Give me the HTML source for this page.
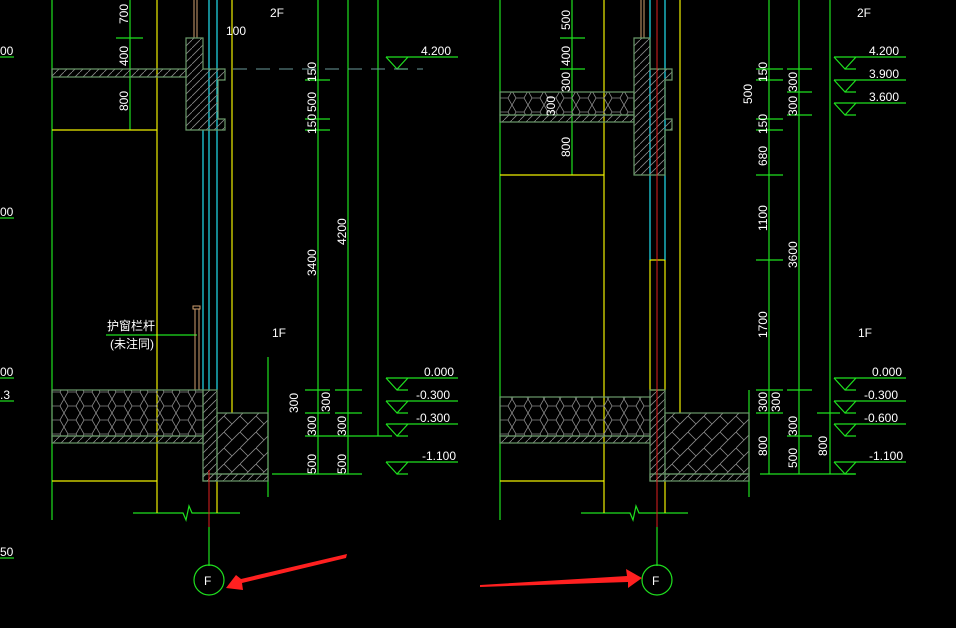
<!DOCTYPE html>
<html><head><meta charset="utf-8"><style>
html,body{margin:0;padding:0;background:#000;width:956px;height:628px;overflow:hidden}
svg{display:block}
text{font-family:"Liberation Sans","Noto Sans CJK SC",sans-serif;fill:#fff;font-size:12px}
</style></head><body>
<svg width="956" height="628" viewBox="0 0 956 628" xmlns="http://www.w3.org/2000/svg">
<defs>
<pattern id="hex" width="16" height="14" patternUnits="userSpaceOnUse">
<path d="M4 0 L12 0 L16 7 L12 14 L4 14 L0 7 Z" fill="none" stroke="#8a8a8a" stroke-width="0.8"/>
</pattern>
<pattern id="hat" width="8" height="8" patternUnits="userSpaceOnUse">
<path d="M0 8 L8 0" stroke="#8a8a8a" stroke-width="0.8"/>
</pattern>
<pattern id="hat2" width="16" height="16" patternUnits="userSpaceOnUse">
<path d="M0 16 L16 0 M0 0 L8 8" stroke="#8a8a8a" stroke-width="0.8"/>
</pattern>
</defs>
<rect width="956" height="628" fill="#000"/>

<g id="panel">
<!-- green long lines -->
<g stroke="#1fe01f" stroke-width="1.2" fill="none">
<line x1="52" y1="0" x2="52" y2="520"/>
<line x1="318" y1="0" x2="318" y2="474"/>
<line x1="348" y1="0" x2="348" y2="474"/>
<line x1="378" y1="0" x2="378" y2="436"/>
<line x1="130" y1="0" x2="130" y2="130"/>
<line x1="116" y1="38" x2="143" y2="38"/>
<line x1="305" y1="80" x2="330" y2="80"/>
<line x1="305" y1="119" x2="330" y2="119"/>
<line x1="305" y1="130" x2="330" y2="130"/>
<line x1="305" y1="390" x2="330" y2="390"/>
<line x1="335" y1="390" x2="362" y2="390"/>
<line x1="305" y1="413" x2="330" y2="413"/>
<line x1="335" y1="413" x2="362" y2="413"/>
<line x1="305" y1="436" x2="392" y2="436"/>
<line x1="272" y1="474" x2="362" y2="474"/>
<line x1="268" y1="357" x2="268" y2="497"/>
<path d="M133 513 H183 L186 520 L189 506 L192 513 H240"/>
<line x1="209" y1="527" x2="209" y2="566"/>
<circle cx="209" cy="580" r="15"/>
<line x1="106" y1="335" x2="197" y2="335"/>
<line x1="0" y1="57" x2="14" y2="57"/>
<line x1="0" y1="218" x2="14" y2="218"/>
<line x1="0" y1="378" x2="14" y2="378"/>
<line x1="0" y1="401" x2="14" y2="401"/>
<line x1="0" y1="558" x2="14" y2="558"/>
</g>
<!-- elevation marks -->
<g stroke="#1fe01f" stroke-width="1.2" fill="none">
<path d="M386 57 H458 M386 57 L397 69 L408 57 M397 69 H408"/>
<path d="M386 378 H458 M386 378 L397 390 L408 378 M397 390 H408"/>
<path d="M386 401 H458 M386 401 L397 413 L408 401 M397 413 H408"/>
<path d="M386 424 H458 M386 424 L397 436 L408 424 M397 436 H408"/>
<path d="M386 462 H458 M386 462 L397 474 L408 462 M397 474 H408"/>
</g>
<!-- yellow -->
<g stroke="#f0f000" stroke-width="1.2">
<line x1="157" y1="0" x2="157" y2="513"/>
<line x1="232" y1="0" x2="232" y2="413"/>
<line x1="52" y1="130" x2="157" y2="130"/>
<line x1="52" y1="481" x2="157" y2="481"/>
<line x1="217" y1="481" x2="217" y2="513"/>
</g>
<!-- cyan -->
<g stroke="#22e0f0" stroke-width="1.2">
<line x1="203" y1="130" x2="203" y2="390"/>
<line x1="209" y1="0" x2="209" y2="390"/>
<line x1="217" y1="0" x2="217" y2="390"/>
</g>
<g stroke="#d0a070" stroke-width="1"><line x1="194" y1="0" x2="194" y2="38"/><line x1="197" y1="0" x2="197" y2="38"/>
<rect x="193" y="306" width="7" height="3" fill="none"/><line x1="195" y1="309" x2="195" y2="390"/><line x1="199" y1="309" x2="199" y2="390"/></g>
<!-- slab + beam -->
<g stroke="#6a9a6a" stroke-width="1.2">
<rect x="52" y="69" width="134" height="8" fill="url(#hat)"/>
<path d="M186 38 H203 V69 H225 V80 H218 V119 H225 V130 H186 Z" fill="url(#hat)"/>
<rect x="52" y="390" width="151" height="46" fill="url(#hex)"/>
<rect x="52" y="436" width="151" height="7" fill="url(#hat)"/>
<rect x="203" y="390" width="14" height="91" fill="url(#hat)"/>
<rect x="217" y="413" width="51" height="61" fill="url(#hat2)"/>
<rect x="203" y="474" width="65" height="7" fill="url(#hat)"/>
</g>
<line x1="209" y1="470" x2="209" y2="527" stroke="#e02020"/>
<line x1="233" y1="69" x2="423" y2="69" stroke="#6a9a9a" stroke-dasharray="14,9"/>
<!-- texts -->
<text x="270" y="17" font-size="13">2F</text>
<text x="272" y="337" font-size="13">1F</text>
<text x="226" y="35" font-size="12">100</text>
<text x="421" y="55">4.200</text>
<text x="424" y="376">0.000</text>
<text x="416" y="399">-0.300</text>
<text x="416" y="422">-0.300</text>
<text x="422" y="460">-1.100</text>
<text x="0" y="55">00</text>
<text x="0" y="216">00</text>
<text x="0" y="376">00</text>
<text x="0" y="399">.3</text>
<text x="0" y="556">50</text>
<text x="107" y="330" font-size="10">护窗栏杆</text>
<text x="110" y="348" font-size="10">(未注同)</text>
<text x="204" y="585" font-size="12">F</text>
<g font-size="11">
<text transform="translate(128,24) rotate(-90)">700</text>
<text transform="translate(128,66) rotate(-90)">400</text>
<text transform="translate(128,111) rotate(-90)">800</text>
<text transform="translate(316,82) rotate(-90)">150</text>
<text transform="translate(316,112) rotate(-90)">500</text>
<text transform="translate(316,134) rotate(-90)">150</text>
<text transform="translate(316,276) rotate(-90)">3400</text>
<text transform="translate(346,245) rotate(-90)">4200</text>
<text transform="translate(298,413) rotate(-90)">300</text>
<text transform="translate(316,436) rotate(-90)">300</text>
<text transform="translate(330,412) rotate(-90)">300</text>
<text transform="translate(346,436) rotate(-90)">300</text>
<text transform="translate(316,474) rotate(-90)">500</text>
<text transform="translate(346,474) rotate(-90)">500</text>
</g>
</g>

<!-- right panel -->
<g>
<g stroke="#1fe01f" stroke-width="1.2" fill="none">
<line x1="500" y1="0" x2="500" y2="520"/>
<line x1="769" y1="0" x2="769" y2="474"/>
<line x1="799" y1="0" x2="799" y2="474"/>
<line x1="830" y1="0" x2="830" y2="474"/>
<line x1="572" y1="0" x2="572" y2="175"/>
<line x1="560" y1="38" x2="585" y2="38"/>
<line x1="560" y1="69" x2="585" y2="69"/>
<line x1="756" y1="69" x2="783" y2="69"/><line x1="787" y1="69" x2="812" y2="69"/>
<line x1="787" y1="92" x2="812" y2="92"/><line x1="787" y1="115" x2="812" y2="115"/>
<line x1="756" y1="80" x2="783" y2="80"/>
<line x1="756" y1="119" x2="783" y2="119"/>
<line x1="756" y1="130" x2="783" y2="130"/>
<line x1="756" y1="175" x2="783" y2="175"/>
<line x1="756" y1="260" x2="783" y2="260"/>
<line x1="756" y1="390" x2="783" y2="390"/><line x1="787" y1="390" x2="812" y2="390"/>
<line x1="756" y1="413" x2="783" y2="413"/><line x1="817" y1="413" x2="840" y2="413"/>
<line x1="787" y1="436" x2="812" y2="436"/>
<line x1="760" y1="474" x2="855" y2="474"/>
<line x1="749" y1="390" x2="749" y2="497"/>
<path d="M581 513 H630 L633 520 L636 506 L639 513 H688"/>
<line x1="657" y1="527" x2="657" y2="566"/>
<circle cx="657" cy="580" r="15"/>
<path d="M834 57 H906 M834 57 L845 69 L856 57 M845 69 H856"/>
<path d="M834 80 H906 M834 80 L845 92 L856 80 M845 92 H856"/>
<path d="M834 103 H906 M834 103 L845 115 L856 103 M845 115 H856"/>
<path d="M834 378 H906 M834 378 L845 390 L856 378 M845 390 H856"/>
<path d="M834 401 H906 M834 401 L845 413 L856 401 M845 413 H856"/>
<path d="M834 424 H906 M834 424 L845 436 L856 424 M845 436 H856"/>
<path d="M834 462 H906 M834 462 L845 474 L856 462 M845 474 H856"/>
</g>
<g stroke="#f0f000" stroke-width="1.2" fill="none">
<line x1="604" y1="0" x2="604" y2="513"/>
<line x1="680" y1="0" x2="680" y2="413"/>
<line x1="500" y1="175" x2="604" y2="175"/>
<line x1="500" y1="481" x2="604" y2="481"/>
<line x1="665" y1="481" x2="665" y2="513"/>
<rect x="650" y="260" width="15" height="130"/>
</g>
<g stroke="#22e0f0" stroke-width="1.2">
<line x1="650" y1="0" x2="650" y2="260"/>
<line x1="665" y1="0" x2="665" y2="260"/>
</g>
<g stroke="#d0a070"><line x1="641" y1="0" x2="641" y2="38"/><line x1="644" y1="0" x2="644" y2="38"/></g>
<g stroke="#6a9a6a" stroke-width="1.2">
<rect x="500" y="92" width="134" height="23" fill="url(#hex)"/>
<rect x="500" y="115" width="134" height="7" fill="url(#hat)"/>
<path d="M634 38 H650 V69 H672 V80 H665 V119 H672 V130 H665 V175 H634 Z" fill="url(#hat)"/>
<rect x="500" y="397" width="150" height="39" fill="url(#hex)"/>
<rect x="500" y="436" width="150" height="7" fill="url(#hat)"/>
<rect x="650" y="390" width="15" height="91" fill="url(#hat)"/>
<rect x="665" y="413" width="84" height="61" fill="url(#hat2)"/>
<rect x="650" y="474" width="99" height="7" fill="url(#hat)"/>
</g>
<line x1="657" y1="0" x2="657" y2="527" stroke="#e02020"/>
<text x="857" y="17" font-size="13">2F</text>
<text x="858" y="337" font-size="13">1F</text>
<text x="869" y="55">4.200</text>
<text x="869" y="78">3.900</text>
<text x="869" y="101">3.600</text>
<text x="872" y="376">0.000</text>
<text x="864" y="399">-0.300</text>
<text x="864" y="422">-0.600</text>
<text x="869" y="460">-1.100</text>
<text x="652" y="585" font-size="12">F</text>
<g font-size="11">
<text transform="translate(570,30) rotate(-90)">500</text>
<text transform="translate(570,66) rotate(-90)">400</text>
<text transform="translate(570,92) rotate(-90)">300</text>
<text transform="translate(555,116) rotate(-90)">300</text>
<text transform="translate(570,157) rotate(-90)">800</text>
<text transform="translate(767,82) rotate(-90)">150</text>
<text transform="translate(752,104) rotate(-90)">500</text>
<text transform="translate(797,92) rotate(-90)">300</text>
<text transform="translate(797,116) rotate(-90)">300</text>
<text transform="translate(767,134) rotate(-90)">150</text>
<text transform="translate(767,166) rotate(-90)">680</text>
<text transform="translate(767,231) rotate(-90)">1100</text>
<text transform="translate(797,268) rotate(-90)">3600</text>
<text transform="translate(767,338) rotate(-90)">1700</text>
<text transform="translate(767,412) rotate(-90)">300</text>
<text transform="translate(780,412) rotate(-90)">300</text>
<text transform="translate(797,436) rotate(-90)">300</text>
<text transform="translate(767,456) rotate(-90)">800</text>
<text transform="translate(797,468) rotate(-90)">500</text>
<text transform="translate(827,456) rotate(-90)">800</text>
</g>
</g>

<!-- red arrows -->
<polygon points="347,554 346,558 242,583 243,590 226,588 236,575 241,579" fill="#ff2020"/>
<polygon points="480,587 480,585 627,576 626,569 642,578 628,588 628,582" fill="#ff2020"/>
</svg>
</body></html>
